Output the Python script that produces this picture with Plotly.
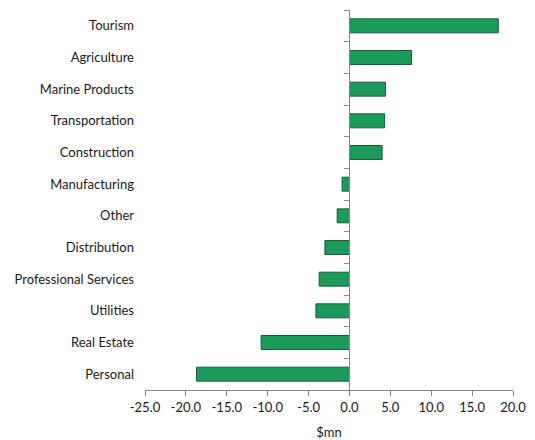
import plotly.graph_objects as go

categories = ["Tourism", "Agriculture", "Marine Products", "Transportation", "Construction",
              "Manufacturing", "Other", "Distribution", "Professional Services", "Utilities",
              "Real Estate", "Personal"]
values = [18.2, 7.6, 4.4, 4.3, 4.0, -0.9, -1.5, -3.0, -3.7, -4.1, -10.8, -18.7]
x_ticks = [-25, -20, -15, -10, -5, 0, 5, 10, 15, 20]

x_min, x_max = -25, 20
font_family = "Lato, 'Open Sans', sans-serif"

fig = go.Figure()
fig.add_trace(go.Bar(
    x=values, y=categories, orientation="h",
    marker=dict(color="#1c9a5c", line=dict(color="#145c37", width=1)),
    hoverinfo="x+y",
))
# invisible trace to carry the zero-line category axis
fig.add_trace(go.Bar(x=[0] * len(categories), y=categories, orientation="h",
                     yaxis="y2", showlegend=False, hoverinfo="skip",
                     marker=dict(color="rgba(0,0,0,0)")))

fig.update_layout(
    width=527, height=432,
    margin=dict(l=137, r=22, t=2, b=48),
    paper_bgcolor="white", plot_bgcolor="white",
    showlegend=False, bargap=0.56,
    font=dict(family=font_family, size=13, color="#1a1a1a"),
    xaxis=dict(
        range=[x_min, x_max], tickvals=x_ticks,
        ticktext=[f"{v:.1f}" for v in x_ticks],
        showgrid=False, zeroline=False,
        showline=True, linecolor="#868686", linewidth=1,
        ticks="outside", ticklen=5, tickcolor="#868686",
        tickfont=dict(size=13, color="#1a1a1a"),
        title=dict(text="$mn", font=dict(size=13, color="#1a1a1a"), standoff=14),
    ),
    yaxis=dict(
        categoryorder="array", categoryarray=categories[::-1],
        showgrid=False, zeroline=False, showline=False, ticks="",
        tickfont=dict(size=13, color="#1a1a1a"), ticklabelstandoff=10,
    ),
    yaxis2=dict(
        overlaying="y", anchor="free",
        position=(0 - x_min) / (x_max - x_min),
        categoryorder="array", categoryarray=categories[::-1],
        matches="y",
        showticklabels=False, showgrid=False, zeroline=False,
        showline=True, linecolor="#868686", linewidth=1,
        ticks="outside", ticklen=5, tickcolor="#868686", tickson="boundaries",
        side="left",
    ),
)

fig.write_html("out.html")
